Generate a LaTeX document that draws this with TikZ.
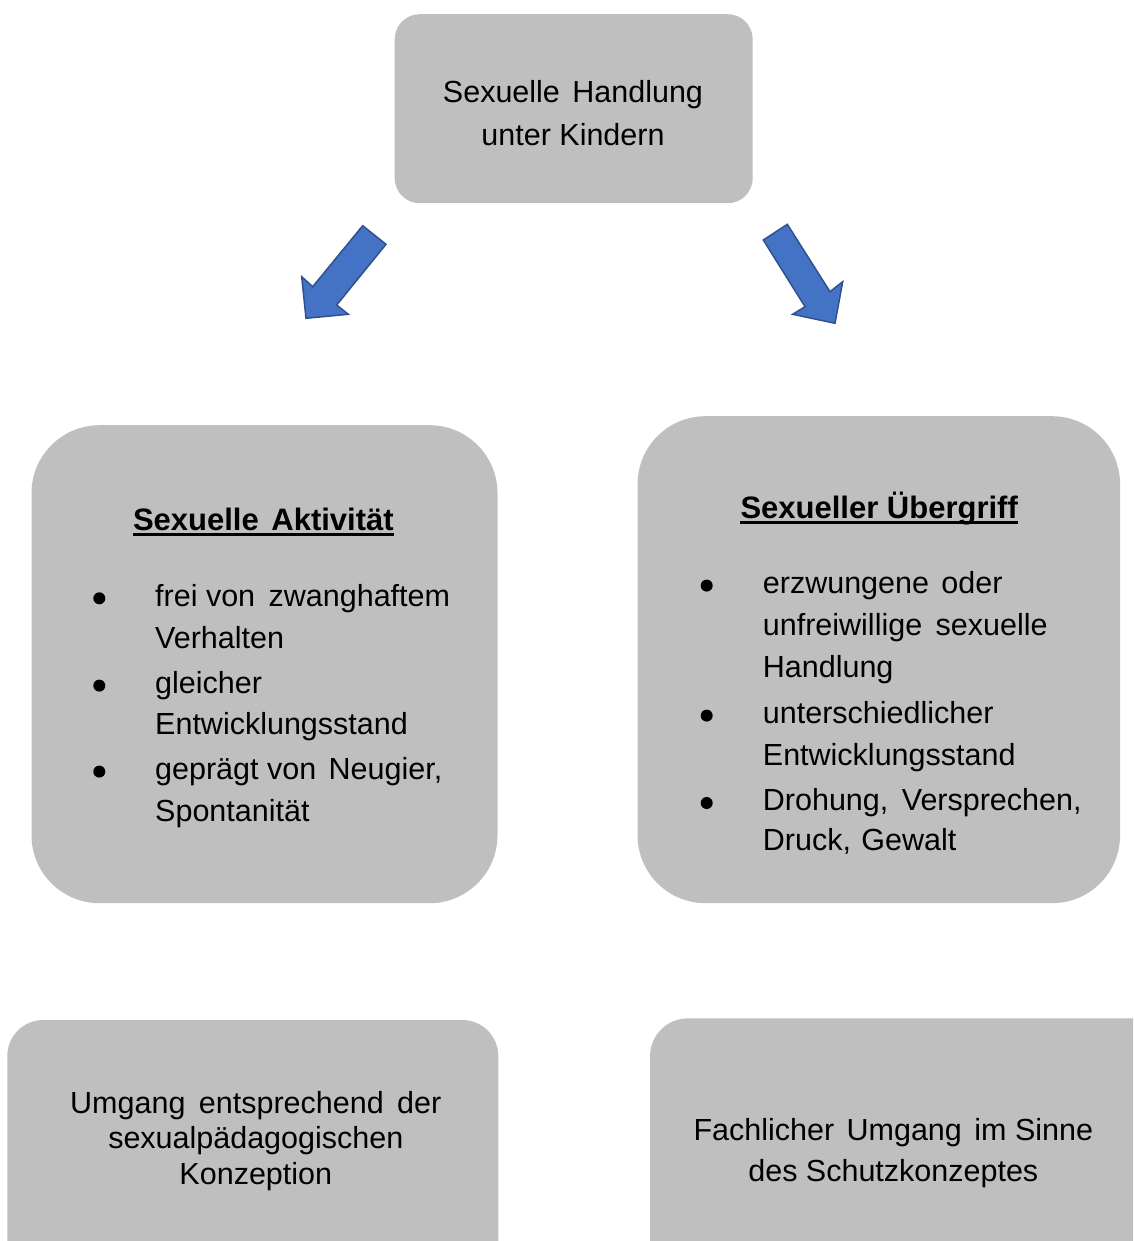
\documentclass[tikz,border=0pt]{standalone}
\usepackage{fontspec}
\setmainfont{Liberation Sans}
\definecolor{boxgray}{HTML}{BFBFBF}
\definecolor{arrowblue}{HTML}{4472C4}
\definecolor{arrowedge}{HTML}{2F528F}
\begin{document}
\begin{tikzpicture}[x=1pt,y=-1pt,
  graybox/.style={draw=none, fill=boxgray, rectangle, inner sep=0pt},
  txt/.style={inner sep=0pt, font=\fontsize{30.5}{36}\selectfont, anchor=base},
  ltxt/.style={txt, anchor=base west},
  btxt/.style={txt, font=\fontsize{31}{36}\selectfont\bfseries},
  bul/.style={circle, fill=black, inner sep=0pt, minimum size=12pt},
  blockarrow/.style={fill=arrowblue, draw=arrowedge, line width=1.5pt, line join=miter}]
\useasboundingbox (0,0) rectangle (1133,1241);
\clip (0,0) rectangle (1133,1241);

% boxes
\node[graybox, minimum width=358pt, minimum height=189pt, rounded corners=25pt] (top) at (573.7,108.7) {};
\node[graybox, minimum width=466pt, minimum height=478pt, rounded corners=68pt] (left) at (264.5,664.2) {};
\node[graybox, minimum width=482.5pt, minimum height=487pt, rounded corners=68pt] (right) at (878.8,659.7) {};
\node[graybox, minimum width=491pt, minimum height=280pt, rounded corners=36pt] (bl) at (252.8,1160) {};
\node[graybox, minimum width=530pt, minimum height=282pt, rounded corners=38pt] (br) at (915,1159.3) {};

% block arrows
\draw[blockarrow] (362.7,225.7) -- (386,244.3) -- (336.7,305) -- (348.3,314.3) -- (306,318.3) -- (301.7,276.7) -- (312.7,286.7) -- cycle;
\draw[blockarrow] (763.3,240) -- (787.3,224.3) -- (830,291.7) -- (842.7,281.7) -- (835,323.3) -- (792.7,314.3) -- (805,306.7) -- cycle;

% top text
\node[txt] (t1) at (573,102.7) {Sexuelle\hspace{4pt} Handlung};
\node[txt] (t2) at (573,145.7) {unter Kindern};

% left box
\node[btxt] (lt) at (263.4,530) {Sexuelle\hspace{4pt} Aktivität};
\draw[line width=3pt] ([yshift=-4.5pt]lt.base west) -- ([yshift=-4.5pt]lt.base east);
\node[bul] (lb1) at (99.3,598.3) {};
\node[bul] (lb2) at (99.3,685.6) {};
\node[bul] (lb3) at (99.3,771.6) {};
\node[ltxt] (l1) at (155,606) {frei von\hspace{5pt} zwanghaftem};
\node[ltxt] (l2) at (155,648.3) {Verhalten};
\node[ltxt] (l3) at (155,693.3) {gleicher};
\node[ltxt] (l4) at (155,734) {Entwicklungsstand};
\node[ltxt] (l5) at (155,779.3) {geprägt von\hspace{4pt} Neugier,};
\node[ltxt] (l6) at (155,821.7) {Spontanität};

% right box
\node[btxt] (rt) at (879.2,518.3) {Sexueller Übergriff};
\draw[line width=3pt] ([yshift=-3.8pt]rt.base west) -- ([yshift=-3.8pt]rt.base east);
\node[bul] (rb1) at (706.7,585.6) {};
\node[bul] (rb2) at (706.7,715.6) {};
\node[bul] (rb3) at (706.7,803) {};
\node[ltxt] (r1) at (762.7,593.3) {erzwungene\hspace{4pt} oder};
\node[ltxt] (r2) at (762.7,635) {unfreiwillige\hspace{5pt} sexuelle};
\node[ltxt] (r3) at (762.7,677.3) {Handlung};
\node[ltxt] (r4) at (762.7,723.3) {unterschiedlicher};
\node[ltxt] (r5) at (762.7,765) {Entwicklungsstand};
\node[ltxt] (r6) at (762.7,810.7) {Drohung,\hspace{5pt} Versprechen,};
\node[ltxt] (r7) at (762.7,850.7) {Druck,\hspace{2pt} Gewalt};

% bottom left
\node[txt] (bl1) at (255.8,1113) {Umgang\hspace{5pt} entsprechend\hspace{5pt} der};
\node[txt] (bl2) at (255.8,1148.3) {sexualpädagogischen};
\node[txt] (bl3) at (255.8,1184) {Konzeption};

% bottom right
\node[txt] (br1) at (893.3,1140) {Fachlicher\hspace{4pt} Umgang\hspace{4pt} im Sinne};
\node[txt] (br2) at (893.3,1181.7) {des Schutzkonzeptes};
\end{tikzpicture}
\end{document}
